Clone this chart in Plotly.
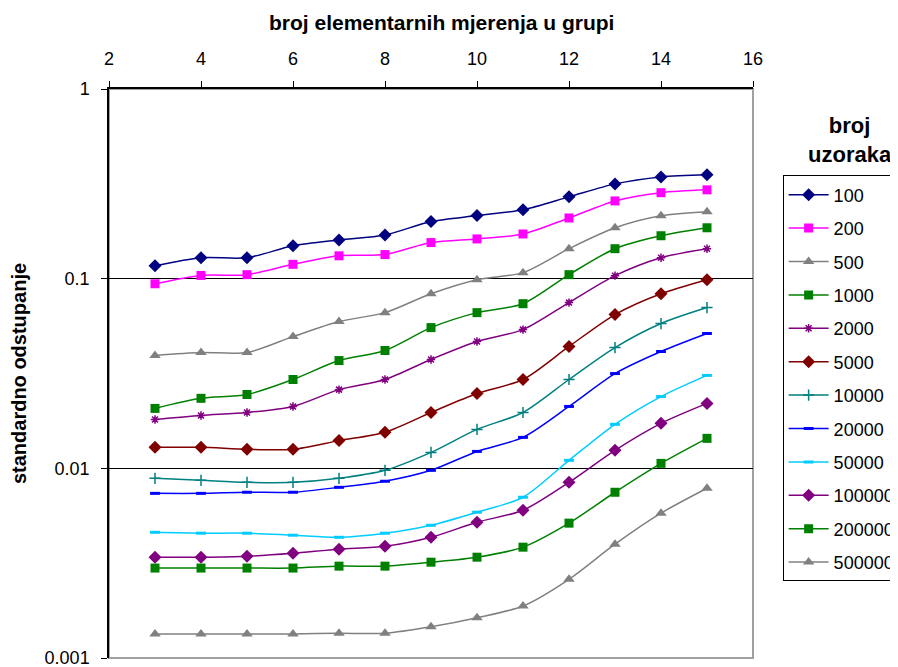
import plotly.graph_objects as go

x_vals = [3, 4, 5, 6, 7, 8, 9, 10, 11, 12, 13, 14, 15]

s100 = [0.117, 0.129, 0.129, 0.149, 0.160, 0.170, 0.200, 0.215, 0.231, 0.270, 0.316, 0.344, 0.353]
s200 = [0.094, 0.104, 0.105, 0.119, 0.132, 0.134, 0.155, 0.162, 0.172, 0.209, 0.257, 0.284, 0.294]
s500 = [0.0394, 0.0408, 0.0408, 0.0495, 0.0594, 0.0662, 0.0833, 0.0988, 0.1076, 0.1439, 0.1855, 0.2147, 0.2253]
s1000 = [0.0207, 0.0234, 0.0245, 0.0294, 0.0370, 0.0418, 0.0552, 0.0662, 0.0738, 0.1050, 0.1439, 0.1684, 0.1855]
s2000 = [0.0181, 0.0190, 0.0197, 0.0212, 0.0260, 0.0294, 0.0375, 0.0466, 0.0539, 0.0748, 0.1037, 0.129, 0.1439]
s5000 = [0.0129, 0.0129, 0.0126, 0.0126, 0.0140, 0.0155, 0.0197, 0.0248, 0.0294, 0.0439, 0.0647, 0.0833, 0.0988]
s10000 = [0.00886, 0.00865, 0.00844, 0.00844, 0.00886, 0.00976, 0.01213, 0.01604, 0.0197, 0.0294, 0.0433, 0.0580, 0.0704]
s20000 = [0.00738, 0.00738, 0.00748, 0.00748, 0.00794, 0.00855, 0.00976, 0.01228, 0.01456, 0.0212, 0.0316, 0.0413, 0.0514]
s50000 = [0.00460, 0.00455, 0.00455, 0.00444, 0.00433, 0.00455, 0.00501, 0.00587, 0.00704, 0.01102, 0.01706, 0.0239, 0.0309]
s100000 = [0.00340, 0.00340, 0.00344, 0.00357, 0.00375, 0.00388, 0.00433, 0.00520, 0.00601, 0.00844, 0.01244, 0.01726, 0.0220]
s200000 = [0.00298, 0.00298, 0.00298, 0.00298, 0.00305, 0.00305, 0.00320, 0.00340, 0.00384, 0.00514, 0.00748, 0.01062, 0.01439]
s500000 = [0.00134, 0.00134, 0.00134, 0.00134, 0.00135, 0.00135, 0.00146, 0.00163, 0.00188, 0.00260, 0.00398, 0.00580, 0.00785]

series_names = ["100", "200", "500", "1000", "2000", "5000", "10000", "20000", "50000", "100000", "200000", "500000"]
series_values = [s100, s200, s500, s1000, s2000, s5000, s10000, s20000, s50000, s100000, s200000, s500000]

y_tick_vals = [0.001, 0.01, 0.1, 1]
y_tick_text = ["0.001", "0.01", "0.1", "1"]
x_tick_vals = [2, 4, 6, 8, 10, 12, 14, 16]

styles = [
    dict(color="#000080", symbol="diamond", size=10, lw=0),
    dict(color="#FF00FF", symbol="square", size=9, lw=0),
    dict(color="#808080", symbol="triangle-up", size=10, lw=0),
    dict(color="#008000", symbol="square", size=9, lw=0),
    dict(color="#800080", symbol="asterisk", size=7, lw=1.5),
    dict(color="#800000", symbol="diamond", size=10, lw=0),
    dict(color="#008080", symbol="cross-thin", size=8, lw=1.5),
    dict(color="#0000FF", symbol="line-ew", size=7, lw=3),
    dict(color="#00CCFF", symbol="line-ew", size=7, lw=3),
    dict(color="#800080", symbol="diamond", size=10, lw=0),
    dict(color="#008000", symbol="square", size=9, lw=0),
    dict(color="#808080", symbol="triangle-up", size=10, lw=0),
]

FONT = "Liberation Sans, Arial, sans-serif"

fig = go.Figure()
for name, vals, st in zip(series_names, series_values, styles):
    fig.add_trace(go.Scatter(
        x=x_vals, y=vals, name=name, mode="lines+markers",
        legendgroup=name,
        line=dict(color=st["color"], width=1.5, shape="spline", smoothing=0.8),
        marker=dict(symbol=st["symbol"], size=st["size"], color=st["color"],
                    line=dict(color=st["color"], width=st["lw"])),
    ))

fig.add_shape(type="rect", xref="paper", yref="paper", x0=0, x1=1, y0=0, y1=1,
              line=dict(color="#a0a0a0", width=2), layer="below")

fig.update_layout(
    width=898, height=667,
    margin=dict(l=101, r=153, t=81, b=17, autoexpand=False),
    paper_bgcolor="white", plot_bgcolor="white",
    font=dict(family=FONT, size=18, color="#000000"),
    showlegend=True,
    legend=dict(
        x=1.046, y=0.848, xanchor="left", yanchor="top",
        bgcolor="white", bordercolor="#000000", borderwidth=1,
        font=dict(family=FONT, size=18, color="#000000"),
        traceorder="grouped", tracegroupgap=7, itemwidth=40,
    ),
    annotations=[
        dict(text="<b>broj<br>uzoraka</b>", xref="paper", yref="paper",
             x=1.151, y=0.91, xanchor="center", yanchor="middle", showarrow=False,
             font=dict(family=FONT, size=22, color="#000000")),
        dict(text="<b>broj elementarnih mjerenja u grupi</b>", xref="paper", yref="paper",
             x=0.517, y=1.117, xanchor="center", yanchor="middle", showarrow=False,
             font=dict(family=FONT, size=21, color="#000000")),
    ],
    xaxis=dict(
        side="top", range=[2, 16], tickvals=x_tick_vals,
        showgrid=False, zeroline=False,
        showline=True, linecolor="#000000", linewidth=1.5,
        ticks="outside", ticklen=6, tickcolor="#000000",
        tickfont=dict(family=FONT, size=18), ticklabelstandoff=9,
        automargin=False,
    ),
    yaxis=dict(
        type="log", range=[-3, 0], tickvals=y_tick_vals, ticktext=y_tick_text,
        showgrid=True, gridcolor="#000000", gridwidth=1.2,
        zeroline=False,
        showline=True, linecolor="#000000", linewidth=1.5,
        ticks="outside", ticklen=6, tickcolor="#000000",
        tickfont=dict(family=FONT, size=18), ticklabelstandoff=8,
        title=dict(text="<b>standardno odstupanje</b>",
                   font=dict(family=FONT, size=20), standoff=14),
        automargin=False,
    ),
)

fig.write_html("out.html")
